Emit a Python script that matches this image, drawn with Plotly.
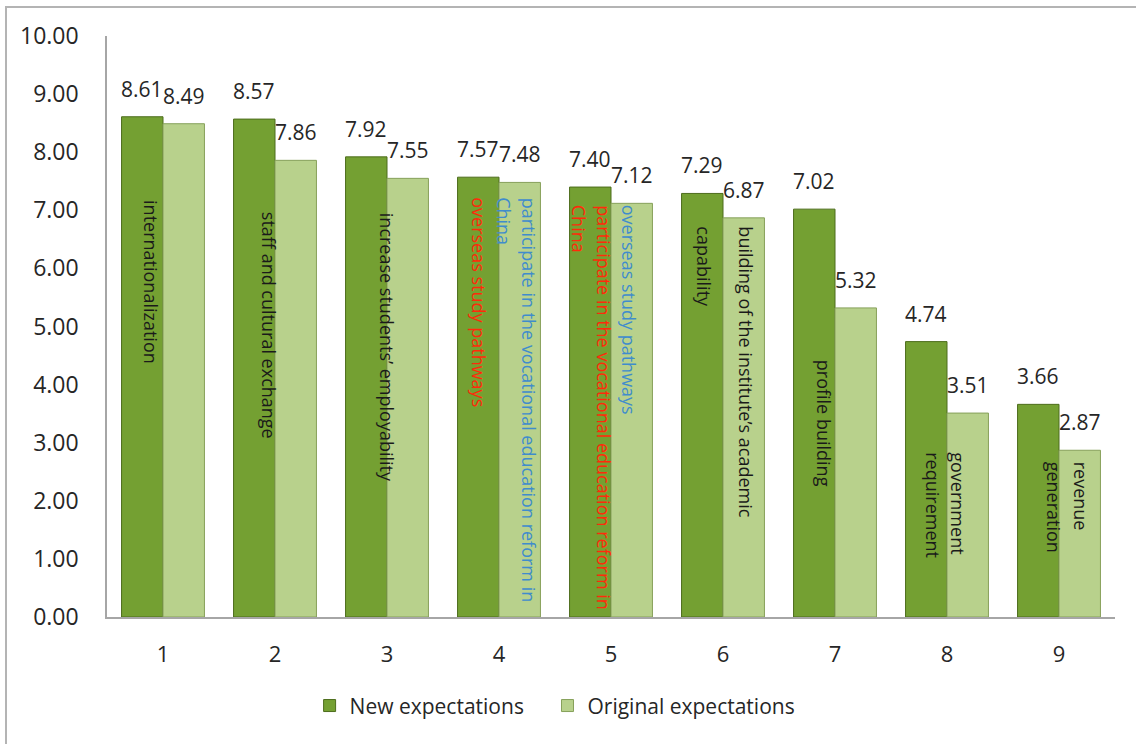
import plotly.graph_objects as go

# ---- data ----
categories = [1, 2, 3, 4, 5, 6, 7, 8, 9]
new_expectations = [8.61, 8.57, 7.92, 7.57, 7.40, 7.29, 7.02, 4.74, 3.66]
original_expectations = [8.49, 7.86, 7.55, 7.48, 7.12, 6.87, 5.32, 3.51, 2.87]
series_names = ["New expectations", "Original expectations"]
y_tick_values = [0, 1, 2, 3, 4, 5, 6, 7, 8, 9, 10]

# in-bar label texts (one entry per line of text)
bar_label_texts = [
    "internationalization",
    "staff and cultural exchange",
    "increase students\u2019 employability",
    "overseas study pathways",
    "participate in the vocational education reform in",
    "China",
    "participate in the vocational education reform in",
    "China",
    "overseas study pathways",
    "building of the institute\u2019s academic",
    "capability",
    "profile building",
    "government",
    "requirement",
    "revenue",
    "generation",
]

# ---- styling / placement (kept separate from data) ----
BLACK, RED, BLUE = "#1a1a1a", "#ff2a0a", "#3f8ccc"
label_colors = [BLACK, BLACK, BLACK, RED, BLUE, BLUE, RED, RED, BLUE,
                BLACK, BLACK, BLACK, BLACK, BLACK, BLACK, BLACK]
# (x in category units, top y in value units)
label_places = [
    (0.893, 7.21), (1.946, 7.00), (3.000, 7.00),
    (3.821, 7.26), (4.268, 7.26), (4.045, 7.26),
    (4.938, 7.13), (4.714, 7.13), (5.161, 7.13),
    (6.205, 6.75), (5.830, 6.75),
    (6.902, 4.47),
    (8.098, 2.87), (7.875, 2.87),
    (9.196, 2.70), (8.955, 2.70),
]

FONT = "Open Sans"
DARK, DARK_EDGE = "#74a032", "#4d6d1c"
LIGHT, LIGHT_EDGE = "#b8d18c", "#86a05a"
BW = 0.37

fig = go.Figure()
fig.add_trace(go.Bar(
    x=categories, y=new_expectations, name=series_names[0],
    width=BW, offset=-BW, legend="legend", showlegend=True,
    marker=dict(color=DARK, line=dict(color=DARK_EDGE, width=1)),
))
fig.add_trace(go.Bar(
    x=categories, y=original_expectations, name=series_names[1],
    width=BW, offset=0, legend="legend2", showlegend=True,
    marker=dict(color=LIGHT, line=dict(color=LIGHT_EDGE, width=1)),
))

annotations = []
# value labels
for c, v in zip(categories, new_expectations):
    annotations.append(dict(x=c - BW / 2, y=v, xref="x", yref="y", text=f"{v:.2f}",
                            showarrow=False, yanchor="bottom", yshift=12,
                            font=dict(family=FONT, size=21, color="#262626")))
for c, v in zip(categories, original_expectations):
    annotations.append(dict(x=c + BW / 2, y=v, xref="x", yref="y", text=f"{v:.2f}",
                            showarrow=False, yanchor="bottom", yshift=12,
                            font=dict(family=FONT, size=21, color="#262626")))
# rotated in-bar labels
for t, col, (px, py) in zip(bar_label_texts, label_colors, label_places):
    annotations.append(dict(x=px, y=py, xref="x", yref="y", text=t, textangle=90,
                            showarrow=False, xanchor="center", yanchor="top",
                            font=dict(family=FONT, size=18, color=col)))

legend_style = dict(orientation="h", xanchor="left", y=-0.153, yanchor="middle",
                    font=dict(family=FONT, size=21, color="#262626"),
                    bgcolor="rgba(0,0,0,0)", visible=True)

fig.update_layout(
    width=1136, height=744,
    margin=dict(l=107, r=21, t=36, b=127),
    paper_bgcolor="white", plot_bgcolor="white",
    barmode="overlay",
    showlegend=True,
    font=dict(family=FONT, color="#262626"),
    xaxis=dict(range=[0.5, 9.5], tickmode="array", tickvals=categories,
               ticktext=[str(c) for c in categories],
               showline=True, linecolor="#a6a6a6", linewidth=1.5,
               showgrid=False, zeroline=False, ticks="",
               ticklabelstandoff=17,
               tickfont=dict(family=FONT, size=22, color="#262626")),
    yaxis=dict(range=[0, 10], tickmode="array", tickvals=y_tick_values,
               ticktext=[f"{v:.2f}" for v in y_tick_values],
               showline=True, linecolor="#a6a6a6", linewidth=1.5,
               showgrid=False, zeroline=False, ticks="",
               ticklabelstandoff=22,
               tickfont=dict(family=FONT, size=23, color="#262626")),
    legend=dict(x=0.201, **legend_style),
    legend2=dict(x=0.437, **legend_style),
    annotations=annotations,
    shapes=[dict(type="rect", xref="paper", yref="paper",
                 x0=-0.1002, x1=1.3, y0=-0.5, y1=1.0499,
                 line=dict(color="#b4b4b4", width=2), layer="below")],
)

fig.write_html("out.html")
